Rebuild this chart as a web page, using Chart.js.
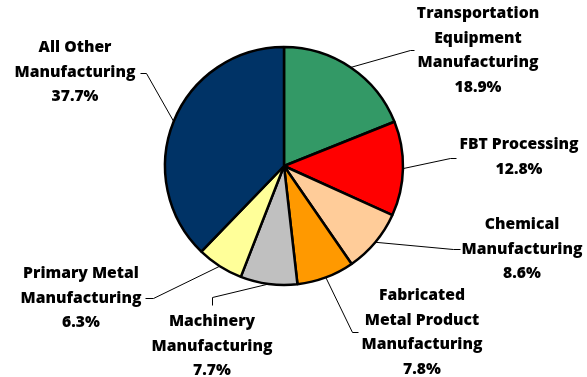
<!DOCTYPE html>
<html>
<head>
<meta charset="utf-8">
<script src="https://cdn.jsdelivr.net/npm/chart.js@4/dist/chart.umd.min.js"></script>
<style>
  html, body { margin: 0; padding: 0; background: #ffffff; }
  #wrap { width: 587px; height: 377px; }
</style>
</head>
<body>
<div id="wrap"><canvas id="c" width="587" height="377"></canvas></div>
<script>
// ---- data ----
const categories = [
  ["Transportation", "Equipment", "Manufacturing"],
  ["FBT Processing"],
  ["Chemical", "Manufacturing"],
  ["Fabricated", "Metal Product", "Manufacturing"],
  ["Machinery", "Manufacturing"],
  ["Primary Metal", "Manufacturing"],
  ["All Other", "Manufacturing"]
];
const shares = [18.9, 12.8, 8.6, 7.8, 7.7, 6.3, 37.7];
const sliceColors = ["#339966", "#FF0000", "#FFCC99", "#FF9900", "#C0C0C0", "#FFFF99", "#003366"];

// ---- label layout (text placement & leader elbows) ----
const labelLayout = [
  { x: 478, y: 14,  elbow: [410, 50],  end: [414, 50] },
  { x: 519, y: 145, elbow: [450, 158], end: [456, 158] },
  { x: 522, y: 225, elbow: [453, 249], end: [460, 249] },
  { x: 422, y: 296, elbow: [352, 332], end: [358, 332] },
  { x: 212, y: 322, elbow: [212, 297], end: [212, 305] },
  { x: 81,  y: 274, elbow: [153, 298], end: [145, 298] },
  { x: 75,  y: 48,  elbow: [146, 73],  end: [140, 73], angleDeg: 202 }
];
const lineHeight = 24.5;

const labelPlugin = {
  id: 'pieLabels',
  afterDatasetsDraw(chart) {
    const ctx = chart.ctx;
    const meta = chart.getDatasetMeta(0);
    ctx.save();
    ctx.strokeStyle = '#000000';
    ctx.lineWidth = 1;
    meta.data.forEach((arc, i) => {
      const L = labelLayout[i];
      const ang = (L.angleDeg !== undefined) ? L.angleDeg * Math.PI / 180 : (arc.startAngle + arc.endAngle) / 2;
      const px = arc.x + Math.cos(ang) * arc.outerRadius;
      const py = arc.y + Math.sin(ang) * arc.outerRadius;
      ctx.beginPath();
      ctx.moveTo(px, py);
      ctx.lineTo(L.elbow[0] + 0.5, L.elbow[1] + 0.5);
      ctx.lineTo(L.end[0] + 0.5, L.end[1] + 0.5);
      ctx.stroke();
    });
    ctx.fillStyle = '#000000';
    ctx.font = "800 15.7px 'Open Sans'";
    ctx.textAlign = 'center';
    ctx.textBaseline = 'middle';
    meta.data.forEach((arc, i) => {
      const L = labelLayout[i];
      const lines = categories[i].concat([shares[i].toFixed(1) + '%']);
      lines.forEach((t, k) => ctx.fillText(t, L.x, L.y + k * lineHeight));
    });
    ctx.restore();
  }
};

new Chart(document.getElementById('c'), {
  type: 'pie',
  data: {
    labels: categories.map(c => c.join(' ')),
    datasets: [{
      data: shares,
      backgroundColor: sliceColors,
      borderColor: '#000000',
      borderWidth: 2.5,
      borderAlign: 'center'
    }]
  },
  options: {
    responsive: false,
    animation: false,
    radius: 119,
    layout: { padding: { left: 0, right: 19, top: 0, bottom: 45 } },
    plugins: { legend: { display: false }, tooltip: { enabled: false } },
    events: []
  },
  plugins: [labelPlugin]
});
</script>
</body>
</html>
